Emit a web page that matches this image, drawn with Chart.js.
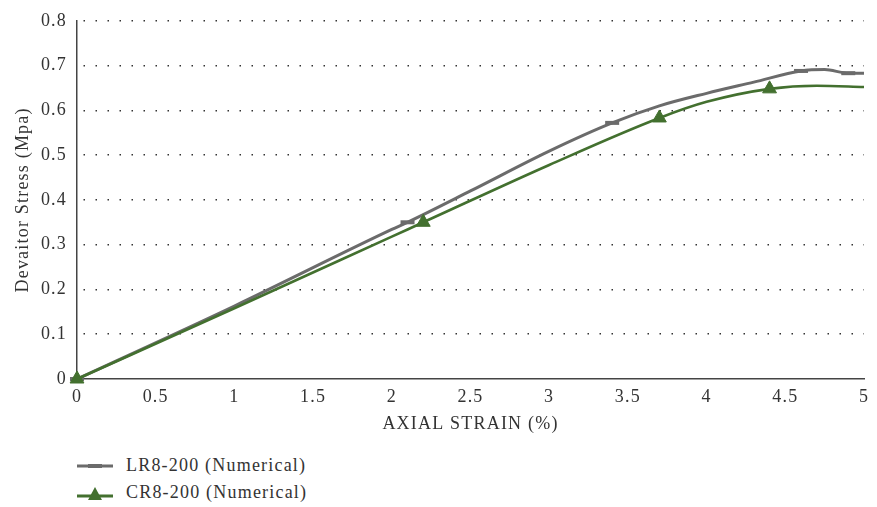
<!DOCTYPE html>
<html>
<head>
<meta charset="utf-8">
<script src="https://cdn.jsdelivr.net/npm/chart.js@4/dist/chart.umd.min.js"></script>
<style>
  html, body { margin: 0; padding: 0; background: #fff; }
  #wrap { position: relative; width: 877px; height: 507px; }
  #chart { position: absolute; left: 0; top: 0; }
  .legend { position: absolute; left: 77px; font-family: "Liberation Serif", serif; font-size: 18px; letter-spacing: 1.2px; color: #333; }
  .legend div { height: 27px; display: flex; align-items: center; }
  .legend svg { margin-right: 13px; }
</style>
</head>
<body>
<div id="wrap">
  <canvas id="chart" width="877" height="440"></canvas>
  <div class="legend" style="top:452px">
    <div><svg width="36" height="14"><line x1="0" y1="7" x2="36" y2="7" stroke="#6b6b6b" stroke-width="3"/><line x1="11" y1="7" x2="25" y2="7" stroke="#6b6b6b" stroke-width="4"/></svg>LR8-200 (Numerical)</div>
    <div><svg width="36" height="16"><line x1="0" y1="11" x2="36" y2="11" stroke="#43702f" stroke-width="3"/><polygon points="18,2 25,15 11,15" fill="#43702f"/></svg>CR8-200 (Numerical)</div>
  </div>
</div>
<script>
'use strict';

// axial strain (%) / deviator stress (MPa)
const lrStrain = [0, 1, 2, 2.1, 2.5, 3, 3.4, 3.7, 4, 4.3, 4.6, 4.75, 4.9, 5];
const lrStress = [0, 0.163, 0.334, 0.35, 0.42, 0.509, 0.572, 0.61, 0.638, 0.663, 0.688, 0.691, 0.683, 0.683];
const lrMarks  = [1, 0, 0, 1, 0, 0, 1, 0, 0, 0, 1, 0, 1, 0];

const crStrain = [0, 1, 2, 2.2, 3, 3.7, 4, 4.4, 4.7, 5];
const crStress = [0, 0.158, 0.318, 0.35, 0.478, 0.583, 0.619, 0.648, 0.655, 0.652];
const crMarks  = [1, 0, 0, 1, 0, 1, 0, 1, 0, 0];

const xTicks = [0, 0.5, 1, 1.5, 2, 2.5, 3, 3.5, 4, 4.5, 5];
const yTicks = [0, 0.1, 0.2, 0.3, 0.4, 0.5, 0.6, 0.7, 0.8];

const toPoints = function(xs, ys){
  return xs.map((x, i) => ({ x: x, y: ys[i] }));
};

const fontFamily = '"Liberation Serif", serif';
const textFont = { family: fontFamily, size: 18 };

// wider letters, closer to the original serif face
const letterSpacing = {
  id: 'letterSpacing',
  beforeInit: function(c){ c.ctx.letterSpacing = '1.2px'; },
  beforeDraw: function(c){ c.ctx.letterSpacing = '1.2px'; }
};

const ctx = document.getElementById('chart').getContext('2d');
const chart = new Chart(ctx, {
  type: 'scatter',
  data: {
    datasets: [
      {
        label: 'CR8-200 (Numerical)',
        data: toPoints(crStrain, crStress),
        showLine: true,
        clip: false,
        borderColor: '#43702f',
        backgroundColor: '#43702f',
        borderWidth: 2.6,
        cubicInterpolationMode: 'monotone',
        pointStyle: 'triangle',
        pointRadius: crMarks.map(m => m ? 8 : 0),
        pointBorderWidth: 1,
        order: 0
      },
      {
        label: 'LR8-200 (Numerical)',
        data: toPoints(lrStrain, lrStress),
        showLine: true,
        clip: false,
        borderColor: '#6b6b6b',
        backgroundColor: '#6b6b6b',
        borderWidth: 3,
        cubicInterpolationMode: 'monotone',
        pointStyle: 'line',
        pointRadius: lrMarks.map(m => m ? 7 : 0),
        pointBorderWidth: 4,
        order: 1
      }
    ]
  },
  options: {
    responsive: false,
    animation: false,
    events: [],
    layout: { padding: { top: 19, right: 13, left: 12, bottom: 0 } },
    plugins: {
      legend: { display: false },
      tooltip: { enabled: false }
    },
    scales: {
      x: {
        type: 'linear',
        min: 0,
        max: 5,
        afterBuildTicks: function(scale){ scale.ticks = xTicks.map(v => ({ value: v })); },
        afterFit: function(scale){ scale.height = 61; },
        grid: { display: false, drawTicks: false },
        border: { display: true, color: '#444', width: 1.5 },
        ticks: {
          padding: 7,
          color: '#333',
          font: textFont,
          maxRotation: 0,
          callback: v => String(v)
        },
        title: {
          display: true,
          text: 'AXIAL STRAIN (%)',
          color: '#333',
          font: textFont,
          padding: { top: 4, bottom: 5 }
        }
      },
      y: {
        type: 'linear',
        min: 0,
        max: 0.8,
        afterBuildTicks: function(scale){ scale.ticks = yTicks.map(v => ({ value: v })); },
        afterFit: function(scale){ scale.width = 65; },
        grid: {
          color: context => (context.tick && context.tick.value === 0) ? 'rgba(0,0,0,0)' : '#333',
          lineWidth: 1.5,
          drawTicks: false
        },
        border: { display: true, color: '#444', width: 1.5, dash: [1.5, 10.5], dashOffset: -6 },
        ticks: {
          padding: 10,
          color: '#333',
          font: textFont,
          callback: v => String(Number(v.toFixed(1)))
        },
        title: {
          display: true,
          text: 'Devaitor Stress (Mpa)',
          color: '#333',
          font: textFont,
          padding: { top: 0, bottom: 4 }
        }
      }
    }
  },
  plugins: [letterSpacing]
});
</script>
</body>
</html>
